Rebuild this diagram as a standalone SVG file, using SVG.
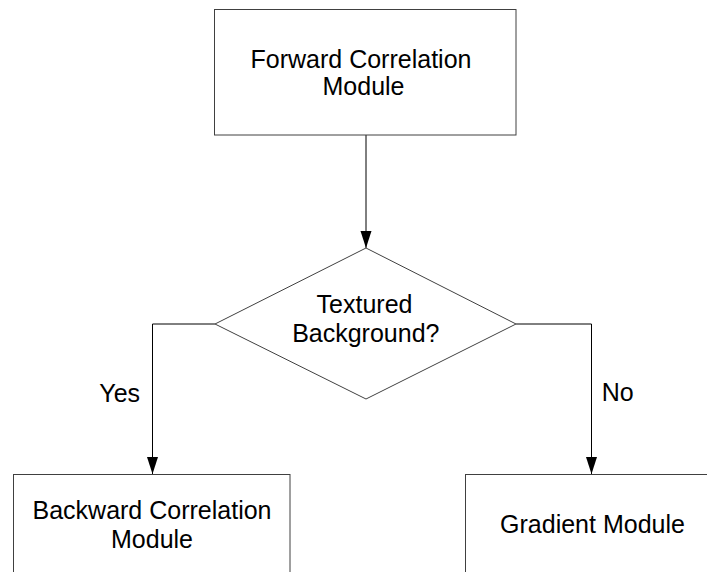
<svg xmlns="http://www.w3.org/2000/svg" width="707" height="572" viewBox="0 0 707 572">
  <style>
    .box { fill: #ffffff; stroke: #404040; stroke-width: 1; }
    .conn { fill: none; stroke: #000000; stroke-width: 1; }
    .t { font-family: "Liberation Sans", Arial, sans-serif; font-size: 25px; fill: #000000; text-anchor: middle; }
    .lbl { font-family: "Liberation Sans", Arial, sans-serif; font-size: 25px; fill: #000000; }
  </style>
  <defs>
    <marker id="arrow" markerUnits="userSpaceOnUse" markerWidth="18" markerHeight="12" refX="17" refY="5.5" orient="auto">
      <path d="M0,0 L17,5.5 L0,11 Z" fill="#000000"/>
    </marker>
  </defs>
  <rect x="0" y="0" width="707" height="572" fill="#ffffff"/>
  <g id="connectors">
    <line class="conn" x1="366" y1="135" x2="366" y2="248" marker-end="url(#arrow)"/>
    <polyline class="conn" points="215,324 152.5,324 152.5,474" marker-end="url(#arrow)"/>
    <polyline class="conn" points="516,324 591.5,324 591.5,474" marker-end="url(#arrow)"/>
    <text class="lbl" x="99.3" y="402.3">Yes</text>
    <text class="lbl" x="601.7" y="401">No</text>
  </g>
  <g id="forward">
    <rect class="box" x="214.5" y="9.5" width="301.5" height="125.5"/>
    <text class="t" x="361" y="68.3">Forward Correlation</text>
    <text class="t" x="363.5" y="95">Module</text>
  </g>
  <g id="decision">
    <polygon class="box" points="366,248 516,324 366,399 215,324"/>
    <text class="t" x="364.5" y="313.3">Textured</text>
    <text class="t" x="365.8" y="341.7">Background?</text>
  </g>
  <g id="backward">
    <rect class="box" x="13.5" y="474.5" width="276.5" height="130"/>
    <text class="t" x="152" y="519">Backward Correlation</text>
    <text class="t" x="152" y="547.7">Module</text>
  </g>
  <g id="gradient">
    <rect class="box" x="465.5" y="474.5" width="280" height="130"/>
    <text class="t" x="592.5" y="532.7">Gradient Module</text>
  </g>
</svg>
